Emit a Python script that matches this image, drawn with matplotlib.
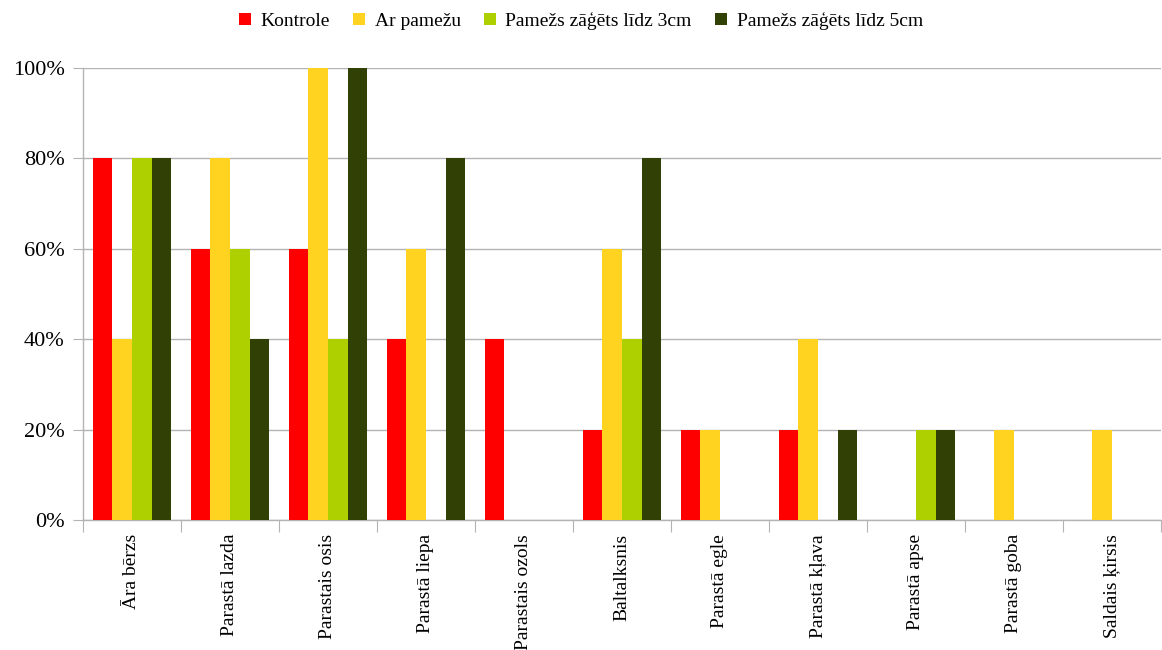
import matplotlib
matplotlib.use("Agg")
import matplotlib.pyplot as plt
import numpy as np
from matplotlib.ticker import FixedLocator, NullFormatter, PercentFormatter
from matplotlib.patches import Patch

categories = ["Āra bērzs", "Parastā lazda", "Parastais osis", "Parastā liepa",
              "Parastais ozols", "Baltalksnis", "Parastā egle", "Parastā kļava",
              "Parastā apse", "Parastā goba", "Saldais ķirsis"]
series_names = ["Kontrole", "Ar pamežu", "Pamežs zāģēts līdz 3cm", "Pamežs zāģēts līdz 5cm"]
kontrole = [80, 60, 60, 40, 40, 20, 20, 20, 0, 0, 0]
ar_pamezu = [40, 80, 100, 60, 0, 60, 20, 40, 0, 20, 20]
zagets_3cm = [80, 60, 40, 0, 0, 40, 0, 0, 20, 0, 0]
zagets_5cm = [80, 40, 100, 80, 0, 80, 0, 20, 20, 0, 0]
colors = ["#FF0000", "#FFD320", "#AECF00", "#314004"]

plt.rcParams['font.family'] = ['Liberation Serif', 'DejaVu Serif']

fig = plt.figure(figsize=(11.62, 6.5), dpi=100)
ax = fig.add_axes([83/1162, 130/650, (1161-83)/1162, (520-68)/650])

x = np.arange(len(categories))
w = 0.2
all_series = [kontrole, ar_pamezu, zagets_3cm, zagets_5cm]
for i, (vals, c) in enumerate(zip(all_series, colors)):
    ax.bar(x - 0.3 + i * w, vals, width=w, color=c, zorder=3, linewidth=0)

ax.set_xlim(-0.5, len(categories) - 0.5)
ax.set_ylim(0, 100)
ax.set_yticks([0, 20, 40, 60, 80, 100])
ax.yaxis.set_major_formatter(PercentFormatter(decimals=0))
ax.yaxis.grid(True, color="#b3b3b3", linewidth=1, zorder=0)
ax.tick_params(axis='y', length=7.2, color="#b3b3b3", labelsize=16, pad=6)

ax.xaxis.set_major_locator(FixedLocator(np.arange(-0.5, len(categories), 1.0)))
ax.xaxis.set_major_formatter(NullFormatter())
ax.xaxis.set_minor_locator(FixedLocator(x))
ax.set_xticklabels(categories, minor=True, rotation=90, fontsize=14)
ax.tick_params(axis='x', which='major', length=8.6, color="#b3b3b3")
ax.tick_params(axis='x', which='minor', length=0, pad=10)

for s in ["top", "right"]:
    ax.spines[s].set_visible(False)
for s in ["left", "bottom"]:
    ax.spines[s].set_color("#b3b3b3")
    ax.spines[s].set_linewidth(1)

handles = [Patch(facecolor=c, edgecolor='none') for c in colors]
fig.legend(handles, series_names, loc='center', bbox_to_anchor=(0.5, 1 - 21/650),
           ncol=4, frameon=False, fontsize=14, handlelength=0.6, handleheight=0.6,
           handletextpad=0.5, columnspacing=1.2)

fig.savefig("out.png", dpi=100)
